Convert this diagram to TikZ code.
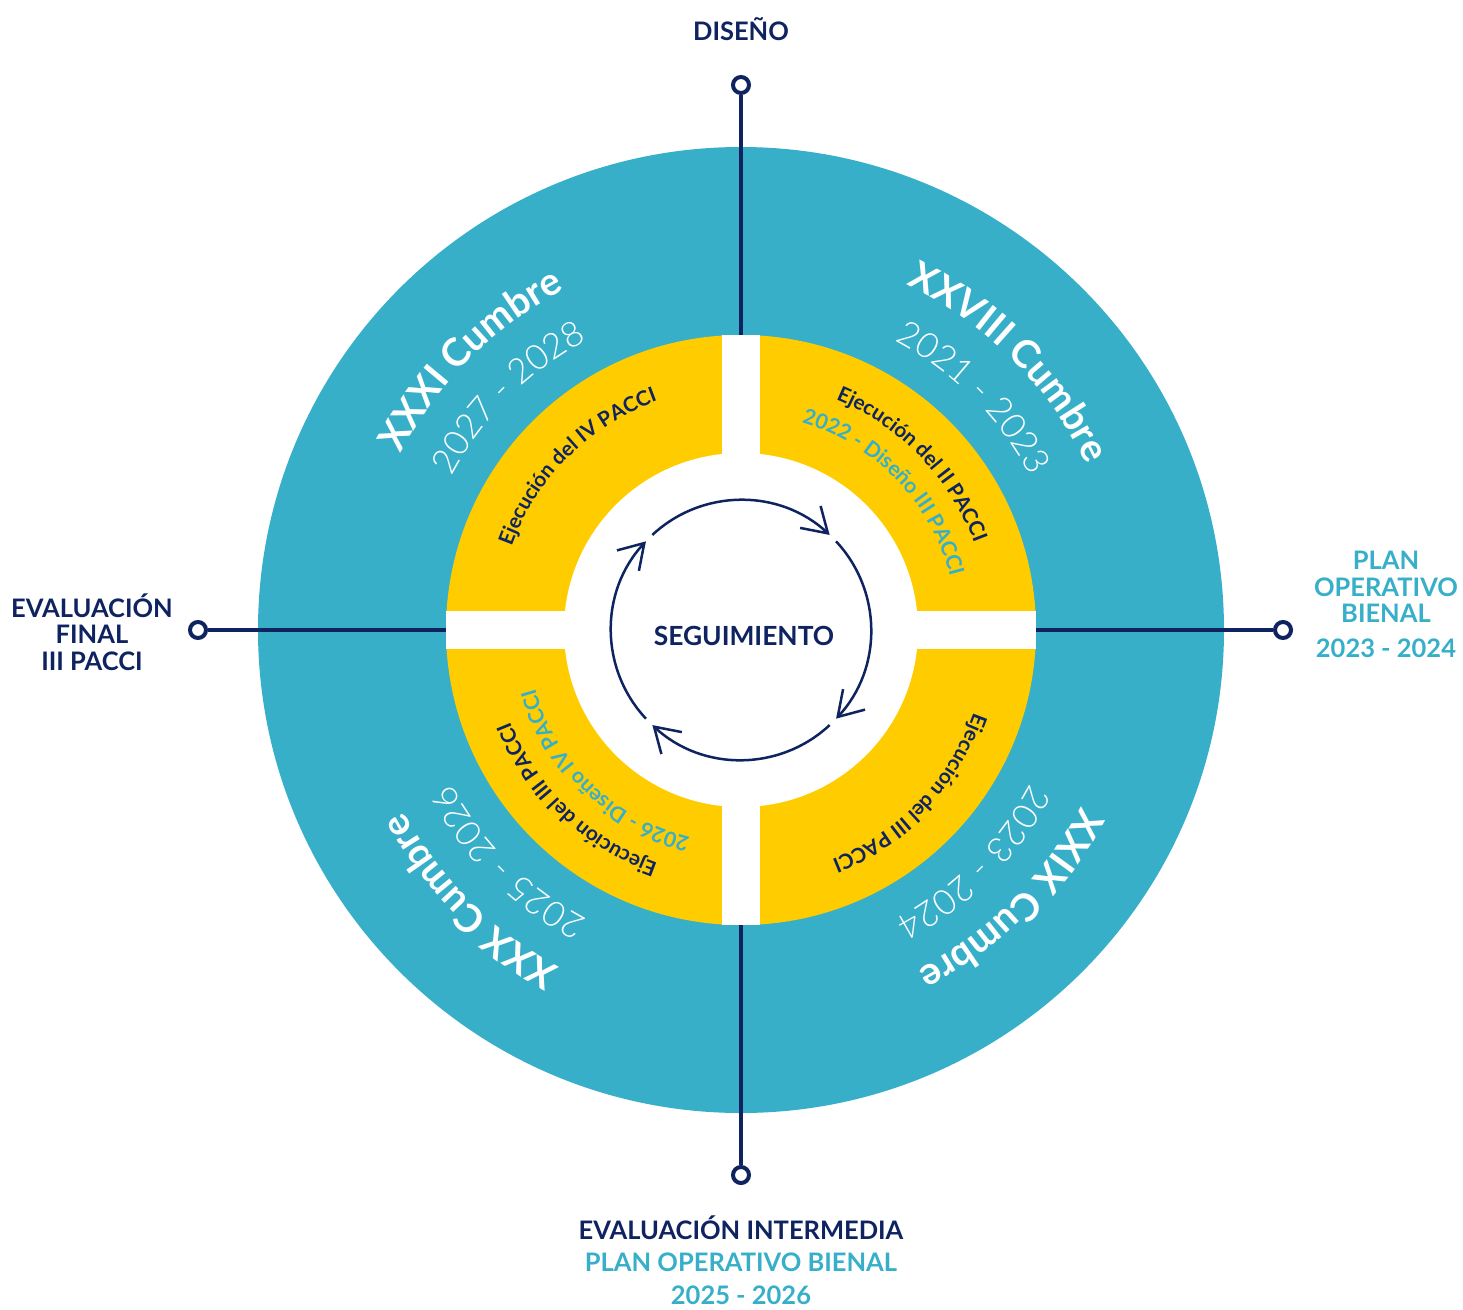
\documentclass[tikz,border=0pt]{standalone}
\usepackage{fontspec}
\setmainfont{Lato}
\newfontfamily\lightfont{Lato Light}
\usetikzlibrary{arrows.meta,positioning,decorations.text}
\definecolor{CicloBlue}{HTML}{37AFC9}
\definecolor{CicloGold}{HTML}{FFCC00}
\definecolor{CicloNavy}{HTML}{0E2360}
\newcommand{\cumbrefont}{\bfseries\fontsize{22}{22}\selectfont}
\newcommand{\yearfont}{\lightfont\fontsize{20}{20}\selectfont}
\newcommand{\pacfont}{\bfseries\fontsize{11.8}{12}\selectfont}
\newcommand{\disfont}{\bfseries\fontsize{12}{12}\selectfont}
\tikzset{
  axisline/.style={line width=0.8mm,draw=CicloNavy},
  endpin/.style={circle,draw=CicloNavy,fill=white,line width=0.8mm,minimum size=3.2mm,inner sep=0pt},
  cyclearrow/.style={-{Straight Barb[length=4.8mm,width=6mm]},line width=0.5mm,draw=CicloNavy},
  navylabel/.style={font=\bfseries\fontsize{14.5}{15.2}\selectfont,text=CicloNavy,align=center},
  bluelabel/.style={font=\bfseries\fontsize{14.5}{15.2}\selectfont,text=CicloBlue,align=center},
  ringtext/.style 2 args={decorate,decoration={text along path,text align=center,text color=#1,text={#2}}}
}
\begin{document}
\begin{tikzpicture}[x=0.2mm,y=0.2mm]
\useasboundingbox (-741,-679) rectangle (722,630);
% discs
\fill[CicloBlue] (0,0) circle (483);
\fill[CicloGold] (0,0) circle (295);
\fill[white] (-19,-295) rectangle (19,295);
\fill[white] (-295,-19) rectangle (295,19);
\fill[white] (0,0) circle (177);

% axes
\node[endpin] (pintop) at (0,545) {};
\node[endpin] (pinbot) at (0,-545) {};
\node[endpin] (pinleft) at (-543,0) {};
\node[endpin] (pinright) at (542,0) {};
\coordinate (ringtop) at (0,295);
\coordinate (ringbot) at (0,-295);
\coordinate (ringleft) at (-295,0);
\coordinate (ringright) at (295,0);
\draw[axisline] (pintop) -- (ringtop);
\draw[axisline] (pinbot) -- (ringbot);
\draw[axisline] (pinleft) -- (ringleft);
\draw[axisline] (pinright) -- (ringright);

% cumbres
\path[ringtext={white}{|\cumbrefont|XXXI Cumbre}] (205:383) arc[start angle=205,end angle=65,radius=383];
\path[ringtext={white}{|\cumbrefont|XXVIII Cumbre}] (115:383) arc[start angle=115,end angle=-25,radius=383];
\path[ringtext={white}{|\cumbrefont|XXIX Cumbre}] (25:383) arc[start angle=25,end angle=-115,radius=383];
\path[ringtext={white}{|\cumbrefont|XXX Cumbre}] (-65:383) arc[start angle=-65,end angle=-205,radius=383];
\path[ringtext={white}{|\yearfont|2027 - 2028}] (205:328) arc[start angle=205,end angle=65,radius=328];
\path[ringtext={white}{|\yearfont|2021 - 2023}] (115:328) arc[start angle=115,end angle=-25,radius=328];
\path[ringtext={white}{|\yearfont|2023 - 2024}] (25:328) arc[start angle=25,end angle=-115,radius=328];
\path[ringtext={white}{|\yearfont|2025 - 2026}] (-65:328) arc[start angle=-65,end angle=-205,radius=328];

% PACCI
\path[ringtext={CicloNavy}{|\pacfont|Ejecución del IV PACCI}] (205:244) arc[start angle=205,end angle=65,radius=244];
\path[ringtext={CicloNavy}{|\pacfont|Ejecución del II PACCI}] (114:249) arc[start angle=114,end angle=-26,radius=249];
\path[ringtext={CicloBlue}{|\disfont|2022 - Diseño III PACCI}] (114:216) arc[start angle=114,end angle=-26,radius=216];
\path[ringtext={CicloNavy}{|\pacfont|Ejecución del III PACCI}] (26:247) arc[start angle=26,end angle=-114,radius=247];
\path[ringtext={CicloNavy}{|\pacfont|Ejecución del III PACCI}] (-64:248) arc[start angle=-64,end angle=-204,radius=248];
\path[ringtext={CicloBlue}{|\disfont|2026 - Diseño IV PACCI}] (-64:214) arc[start angle=-64,end angle=-204,radius=214];

% seguimiento
\node[font=\bfseries\fontsize{15}{16}\selectfont,text=CicloNavy] (seg) at (3,-6) {SEGUIMIENTO};
\draw[cyclearrow] (133:130) arc[start angle=133,end angle=47,radius=130];
\draw[cyclearrow] (43:130) arc[start angle=43,end angle=-43,radius=130];
\draw[cyclearrow] (-47:130) arc[start angle=-47,end angle=-133,radius=130];
\draw[cyclearrow] (-137:130) arc[start angle=-137,end angle=-223,radius=130];

% labels
\node[navylabel] (diseno) at (0,601) {DISEÑO};
\node[navylabel] (evalfin) at (-649,-2) {EVALUACIÓN\\FINAL\\III PACCI};
\node[bluelabel] (plan) at (645,43) {PLAN\\OPERATIVO\\BIENAL};
\node[bluelabel] (plany) at (645,-18) {2023 - 2024};
\node[navylabel] (evalint) at (0,-598) {EVALUACIÓN INTERMEDIA};
\node[bluelabel] (planbot) at (0,-632) {PLAN OPERATIVO BIENAL};
\node[bluelabel] (planboty) at (0,-665) {2025 - 2026};
\end{tikzpicture}
\end{document}
